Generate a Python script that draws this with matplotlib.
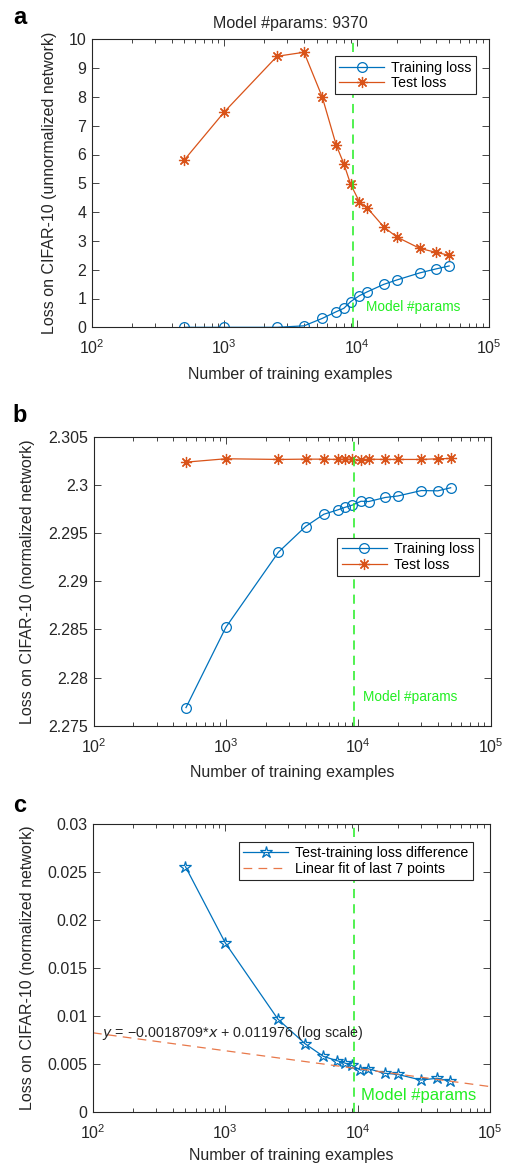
import numpy as np
import matplotlib
matplotlib.use("Agg")
import matplotlib.pyplot as plt
from matplotlib.ticker import LogLocator, FixedLocator, FixedFormatter, NullFormatter

plt.rcParams['font.family'] = ['Liberation Sans', 'DejaVu Sans']
plt.rcParams['mathtext.default'] = 'regular'

# ---- data ----
n_examples = [500, 1000, 2500, 4000, 5500, 7000, 8000, 9000, 10500, 12000,
              16000, 20000, 30000, 40000, 50000]
train_unnorm = [0.0, 0.0, 0.0, 0.05, 0.31, 0.54, 0.66, 0.89, 1.10, 1.23,
                1.49, 1.64, 1.89, 2.03, 2.13]
test_unnorm = [5.82, 7.48, 9.41, 9.55, 7.99, 6.33, 5.68, 4.97, 4.35, 4.15,
               3.49, 3.14, 2.74, 2.60, 2.50]
train_norm = [2.27688, 2.28521, 2.29302, 2.29567, 2.29695, 2.29740, 2.29768,
              2.29789, 2.29830, 2.29827, 2.29869, 2.29885, 2.29941, 2.29938, 2.29970]
test_norm = [2.30236, 2.30271, 2.30264, 2.30267, 2.30267, 2.30264, 2.30267,
             2.30264, 2.30257, 2.30267, 2.30264, 2.30264, 2.30264, 2.30271, 2.30274]
diff_norm = [0.02557, 0.01761, 0.00965, 0.00710, 0.00578, 0.00532, 0.00508,
             0.00484, 0.00435, 0.00449, 0.00401, 0.00390, 0.00331, 0.00349, 0.00320]
fit_slope = -0.0018709
fit_intercept = 0.011976
model_params = 9370

BLUE = '#0072BD'
ORANGE = '#D95319'
GREEN = '#22EE22'
TXT = '#262626'

W, H = 508, 1165
fig = plt.figure(figsize=(W / 100, H / 100), dpi=100)

def add_ax(left, right, top, bottom):
    return fig.add_axes([left / W, 1 - bottom / H, (right - left) / W, (bottom - top) / H])

FS = 11.5
LFS = 10.2

def style(ax, yticks, ylabels, xlabelpad=7):
    ax.set_xscale('log')
    ax.set_xlim(1e2, 1e5)
    ax.xaxis.set_major_locator(LogLocator(base=10, numticks=10))
    ax.xaxis.set_minor_locator(LogLocator(base=10, subs=np.arange(2, 10), numticks=10))
    ax.xaxis.set_minor_formatter(NullFormatter())
    ax.yaxis.set_major_locator(FixedLocator(yticks))
    ax.yaxis.set_major_formatter(FixedFormatter(ylabels))
    ax.tick_params(which='both', direction='in', top=True, right=True,
                   labelsize=FS, colors=TXT, width=0.6)
    ax.tick_params(which='major', length=5)
    ax.tick_params(axis='x', which='major', pad=8)
    ax.tick_params(axis='y', which='major', pad=4)
    ax.tick_params(which='minor', length=3)
    for s in ax.spines.values():
        s.set_color(TXT)
        s.set_linewidth(0.8)
    ax.set_xlabel('Number of training examples', fontsize=FS, color=TXT, labelpad=xlabelpad)

def legend(ax, **kw):
    leg = ax.legend(fontsize=LFS, handlelength=3.2, borderpad=0.3,
                    labelspacing=0.1, handletextpad=0.5,
                    fancybox=False, framealpha=1, **kw)
    leg.get_frame().set_edgecolor(TXT)
    leg.get_frame().set_linewidth(0.8)
    return leg

star8 = (8, 2, 0)

# ---- panel a ----
ax = add_ax(92, 489, 39.3, 327.3)
ax.plot(n_examples, train_unnorm, color=BLUE, lw=0.9, marker='o', ms=7,
        mfc='none', mew=0.9, label='Training loss')
ax.plot(n_examples, test_unnorm, color=ORANGE, lw=0.9, marker=star8, ms=8,
        mew=0.9, label='Test loss')
ax.axvline(model_params, color=GREEN, ls=(0, (6, 4)), lw=1.1)
ax.set_ylim(0, 10)
style(ax, list(range(0, 11)), [str(v) for v in range(0, 11)])
ax.set_ylabel('Loss on CIFAR-10 (unnormalized network)', fontsize=FS, color=TXT)
ax.yaxis.set_label_coords((57 - 92) / 397, 0.5)
ax.set_title('Model #params: %d' % model_params, fontsize=FS, color=TXT, pad=8)
ax.text(11800, 0.72, 'Model #params', color=GREEN, fontsize=9.8, va='center')
legend(ax, loc='upper right', bbox_to_anchor=(0.985, 0.965))
fig.text(20 / W, 1 - 18 / H, 'a', fontsize=17, fontweight='bold', ha='center', va='center')

# ---- panel b ----
ax = add_ax(93.5, 490.5, 436.7, 725.7)
ax.plot(n_examples, train_norm, color=BLUE, lw=0.9, marker='o', ms=7,
        mfc='none', mew=0.9, label='Training loss')
ax.plot(n_examples, test_norm, color=ORANGE, lw=0.9, marker=star8, ms=8,
        mew=0.9, label='Test loss')
ax.axvline(model_params, color=GREEN, ls=(0, (6, 4)), lw=1.1)
ax.set_ylim(2.275, 2.305)
yb = [2.275, 2.28, 2.285, 2.29, 2.295, 2.3, 2.305]
style(ax, yb, ['2.275', '2.28', '2.285', '2.29', '2.295', '2.3', '2.305'])
ax.set_ylabel('Loss on CIFAR-10 (normalized network)', fontsize=FS, color=TXT)
ax.yaxis.set_label_coords((35.5 - 93.5) / 397, 0.5)
ax.text(10800, 2.27802, 'Model #params', color=GREEN, fontsize=9.8, va='center')
legend(ax, loc='center right', bbox_to_anchor=(0.988, 0.584))
fig.text(20 / W, 1 - 415 / H, 'b', fontsize=17, fontweight='bold', ha='center', va='center')

# ---- panel c ----
ax = add_ax(93, 490, 824.3, 1111.7)
ax.plot(n_examples, diff_norm, color=BLUE, lw=0.9, marker='*', ms=9,
        mfc='none', mew=0.9, label='Test-training loss difference')
xfit = np.array([1e2, 1e5])
ax.plot(xfit, fit_slope * np.log10(xfit) + fit_intercept, color='#E8784A',
        ls=(0, (7, 5)), lw=0.9, label='Linear fit of last 7 points')
ax.axvline(model_params, color=GREEN, ls=(0, (6, 4)), lw=1.1)
ax.set_ylim(0, 0.03)
yc = [0, 0.005, 0.01, 0.015, 0.02, 0.025, 0.03]
style(ax, yc, ['0', '0.005', '0.01', '0.015', '0.02', '0.025', '0.03'], xlabelpad=5)
ax.set_ylabel('Loss on CIFAR-10 (normalized network)', fontsize=FS, color=TXT)
ax.yaxis.set_label_coords((35.5 - 93) / 397, 0.5)
ax.text(10600, 0.00174, 'Model #params', color=GREEN, fontsize=12, va='center')
ax.text(116, 0.00818,
        '$\\it{y}$ = \u22120.0018709*$\\it{x}$ + 0.011976 (log scale)',
        fontsize=10.3, color=TXT, va='center')
legend(ax, loc='upper right', bbox_to_anchor=(0.975, 0.963))
fig.text(20 / W, 1 - 805 / H, 'c', fontsize=17, fontweight='bold', ha='center', va='center')

fig.savefig('out.png', dpi=100)
